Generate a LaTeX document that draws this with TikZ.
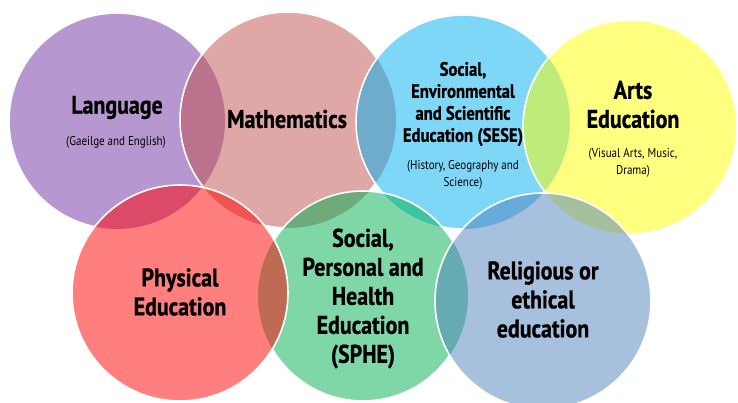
\documentclass[tikz,border=0pt]{standalone}
\usepackage{fontspec}
\newfontfamily\cond{PT Sans}[FakeStretch=0.86, BoldFeatures={FakeBold=0.8}]
\definecolor{langc}{HTML}{7030A0}
\definecolor{mathc}{HTML}{C0504D}
\definecolor{sesec}{HTML}{00B0F0}
\definecolor{artsc}{HTML}{FFFF00}
\definecolor{physc}{HTML}{FF0000}
\definecolor{sphec}{HTML}{00B050}
\definecolor{relc}{HTML}{4F81BD}
\begin{document}
\begin{tikzpicture}[x=1pt, y=-1pt,
	ring/.style={fill opacity=0.5},
	rim/.style={white, line width=1.6pt},
	title/.style={font=\cond\bfseries\fontsize{25.5}{29}\selectfont, align=center, inner sep=0pt},
	subtitle/.style={font=\cond\bfseries\fontsize{19.3}{22}\selectfont, align=center, inner sep=0pt},
	note/.style={font=\cond\fontsize{12.8}{17}\selectfont, align=center, inner sep=0pt}]
		\useasboundingbox (0,0) rectangle (738,403);
		\coordinate (nw) at (-20,-20);
		\coordinate (se) at (760,425);
		\coordinate (lang) at (117,121);
		\coordinate (math) at (288,120);
		\coordinate (sese) at (463,122);
		\coordinate (arts) at (630,127);
		\coordinate (phys) at (180,293);
		\coordinate (sphe) at (363,296);
		\coordinate (rel) at (543,301);
		\fill[ring, langc] (lang) circle (108pt);
		\fill[ring, mathc] (math) circle (108pt);
		\fill[ring, sesec] (sese) circle (107pt);
		\fill[ring, artsc] (arts) circle (107pt);
		\fill[ring, sphec] (sphe) circle (105pt);
		\fill[ring, physc] (phys) circle (108pt);
		\fill[ring, relc] (rel) circle (108pt);
		\begin{scope}[even odd rule]
		\clip (nw) rectangle (se) (math) circle (108pt);
		\clip (nw) rectangle (se) (phys) circle (108pt);
		\draw[rim] (lang) circle (108pt);
		\end{scope}
		\begin{scope}[even odd rule]
		\clip (nw) rectangle (se) (sese) circle (107pt);
		\clip (nw) rectangle (se) (phys) circle (108pt);
		\clip (nw) rectangle (se) (sphe) circle (105pt);
		\draw[rim] (math) circle (108pt);
		\end{scope}
		\begin{scope}[even odd rule]
		\clip (nw) rectangle (se) (arts) circle (107pt);
		\clip (nw) rectangle (se) (sphe) circle (105pt);
		\clip (nw) rectangle (se) (rel) circle (108pt);
		\draw[rim] (sese) circle (107pt);
		\end{scope}
		\begin{scope}[even odd rule]
		\clip (nw) rectangle (se) (rel) circle (108pt);
		\draw[rim] (arts) circle (107pt);
		\end{scope}
		\begin{scope}[even odd rule]
		\clip (nw) rectangle (se) (phys) circle (108pt);
		\clip (nw) rectangle (se) (rel) circle (108pt);
		\draw[rim] (sphe) circle (105pt);
		\end{scope}
		\draw[rim] (phys) circle (108pt);
		\draw[rim] (rel) circle (108pt);
		\node[title] (langtext) at (117,107.5) {Language};
		\node[note] (langnote) at (116,142.5) {(Gaeilge and English)};
		\node[title] (mathtext) at (287,119) {Mathematics};
		\node[subtitle] (sesetext) at (463,104) {Social,\\Environmental\\and Scientific\\Education (SESE)};
		\node[note] (sesenote) at (463,175) {(History, Geography and\\Science)};
		\node[title] (artstext) at (633,104.5) {Arts\\Education};
		\node[note] (artsnote) at (633,163) {(Visual Arts, Music,\\Drama)};
		\node[title] (phystext) at (180,292) {Physical\\Education};
		\node[title] (sphetext) at (363,298.5) {Social,\\Personal and\\Health\\Education\\(SPHE)};
		\node[title] (reltext) at (543,299.5) {Religious or\\ethical\\education};
\end{tikzpicture}
\end{document}
